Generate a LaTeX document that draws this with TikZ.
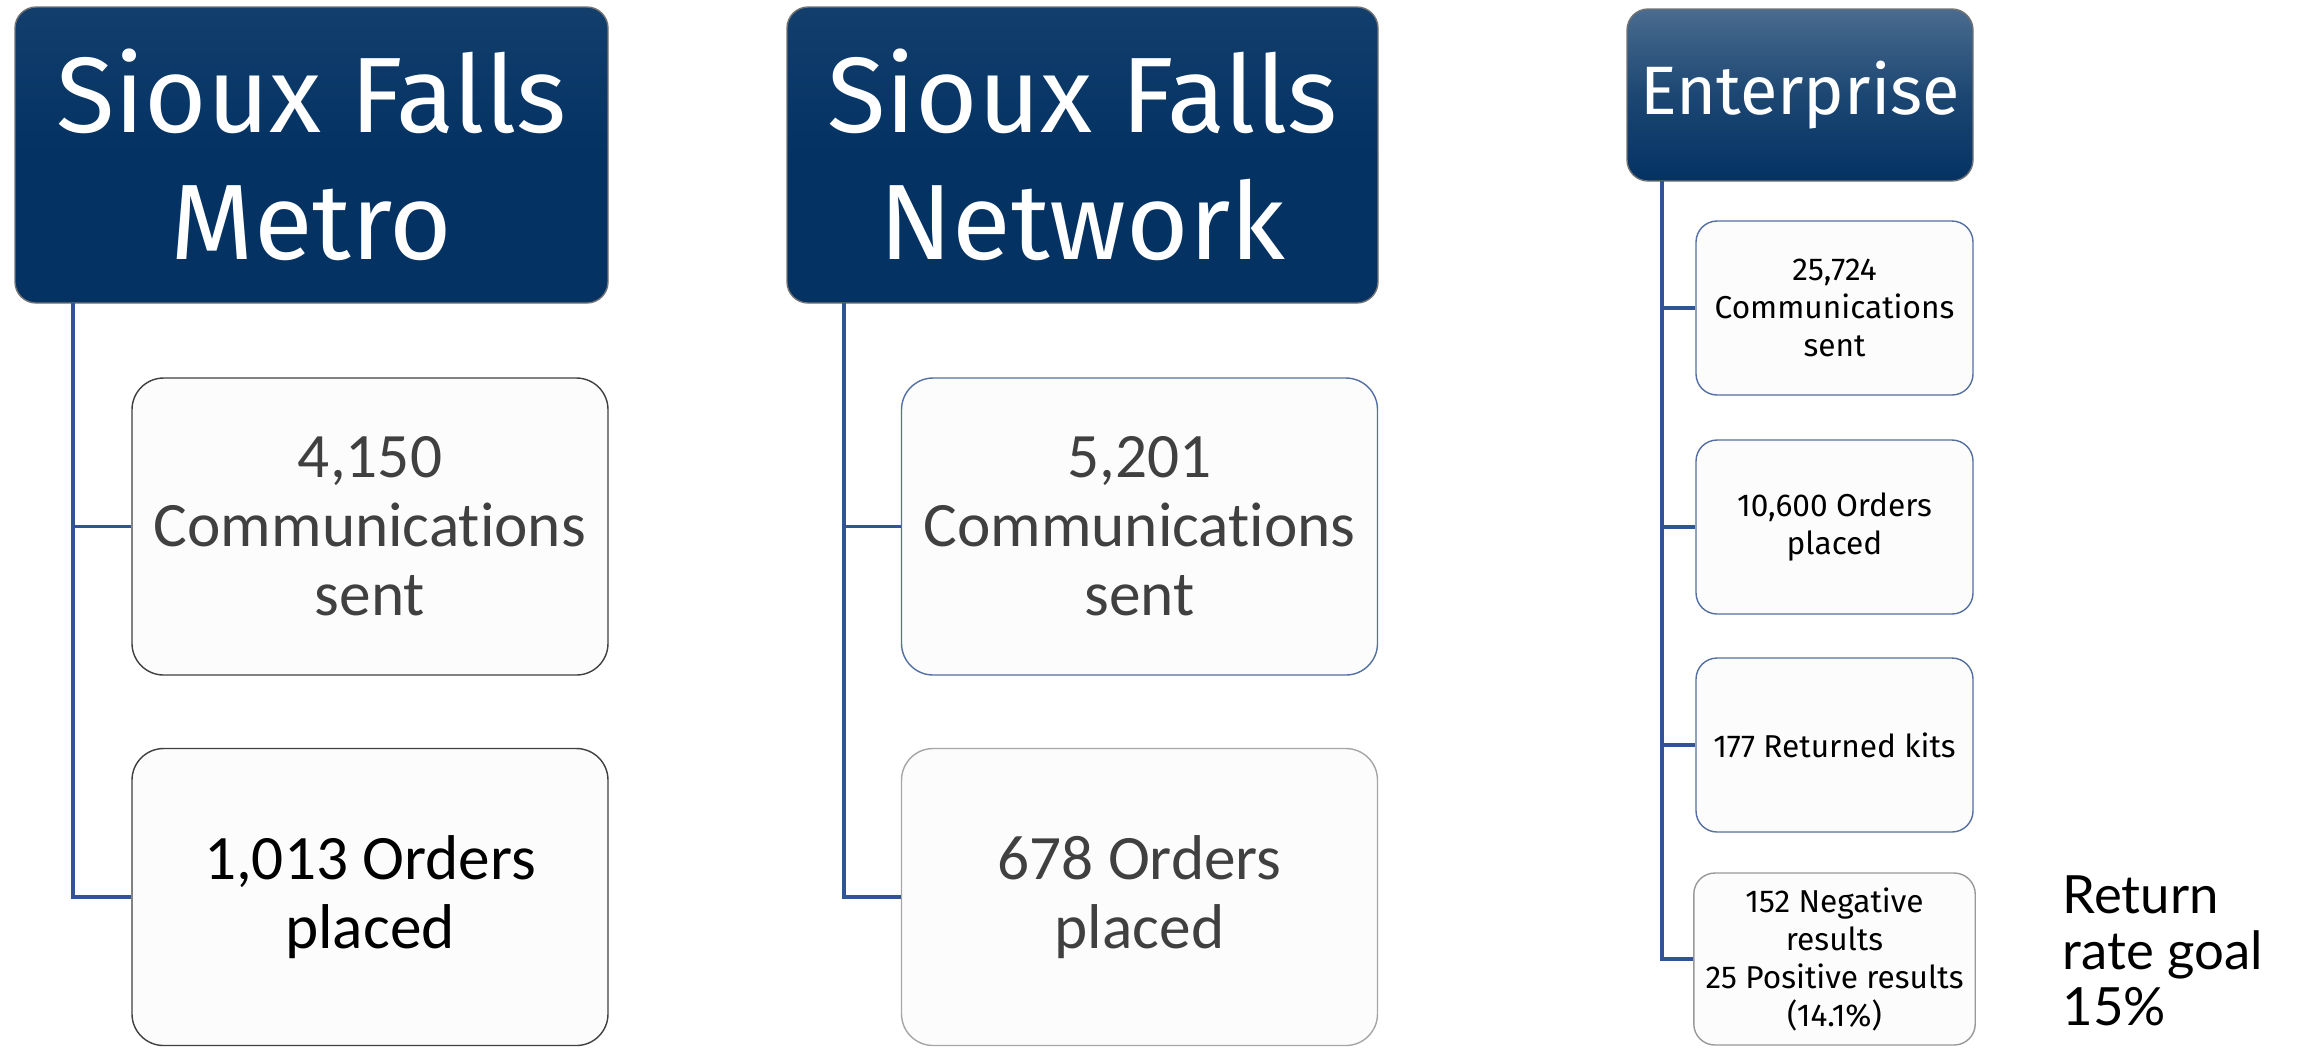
\documentclass[tikz,border=0pt]{standalone}
\usepackage{fontspec}
\setmainfont{Carlito}[Ligatures={NoCommon,NoContextual}]
\newfontfamily\headfont{Fira Sans}
\newfontfamily\kitfont{Fira Sans}
\newfontfamily\notefont{Lato}
\usepackage{xcolor}
\usetikzlibrary{positioning}

\definecolor{navy}{RGB}{3,50,99}
\definecolor{linkblue}{RGB}{47,85,151}
\definecolor{boxgray}{RGB}{252,252,252}
\definecolor{textgray}{RGB}{64,64,64}
\definecolor{edgeblue}{RGB}{84,112,160}

\begin{document}
\begin{tikzpicture}[
    hdr/.style={draw=black!55,rounded corners=6pt,align=center,text=white,
      top color=navy!94!white,bottom color=navy,middle color=navy,
      font=\headfont\fontsize{30.5}{36}\selectfont},
    stat/.style={draw=textgray,fill=boxgray,rounded corners=9pt,align=center,
      minimum width=4.76cm,minimum height=2.97cm,text=textgray,
      font=\fontsize{18}{19.6}\selectfont},
    kit/.style={draw=edgeblue,fill=boxgray,rounded corners=6pt,align=center,
      minimum width=2.77cm,minimum height=1.74cm,
      font=\kitfont\fontsize{9}{10.8}\selectfont},
    link/.style={draw=linkblue,line width=1pt}
  ]
    \useasboundingbox (0,0) rectangle (22.98,-10.47);

    % Sioux Falls Metro
    \node[hdr,minimum width=5.93cm,minimum height=2.96cm] (hdrA) at (3.115,-1.55) {Sioux Falls\\Metro};
    \node[stat] (sentA) at (3.70,-5.265) {4,150\\Communications\\sent};
    \node[stat,text=black] (ordA) at (3.70,-8.97) {1,013 Orders\\placed};
    \coordinate (spineA) at (0.73,-3.03);
    \draw[link] (spineA) |- (sentA.west);
    \draw[link] (spineA) |- (ordA.west);

    % Sioux Falls Network
    \node[hdr,minimum width=5.91cm,minimum height=2.96cm] (hdrB) at (10.825,-1.55) {Sioux Falls\\Network};
    \node[stat,draw=edgeblue] (sentB) at (11.395,-5.265) {5,201\\Communications\\sent};
    \node[stat,draw=black!35] (ordB) at (11.395,-8.97) {678 Orders\\placed};
    \coordinate (spineB) at (8.44,-3.03);
    \draw[link] (spineB) |- (sentB.west);
    \draw[link] (spineB) |- (ordB.west);

    % Enterprise
    \node[hdr,top color=navy!72!white,middle color=navy!90!white,minimum width=3.46cm,minimum height=1.72cm,
      font=\headfont\fontsize{19.5}{23}\selectfont] (hdrC) at (18.0,-0.95) {Enterprise};
    \node[kit] (sentC) at (18.345,-3.08) {25,724\\Communications\\sent};
    \node[kit] (ordC) at (18.345,-5.27) {10,600 Orders\\placed};
    \node[kit] (retC) at (18.345,-7.45) {177 Returned kits};
    \node[kit,draw=black!40,minimum height=1.72cm] (resC) at (18.345,-9.59) {152 Negative\\results\\25 Positive results\\(14.1\%)};
    \coordinate (spineC) at (16.62,-1.81);
    \draw[link] (spineC) |- (sentC.west);
    \draw[link] (spineC) |- (ordC.west);
    \draw[link] (spineC) |- (retC.west);
    \draw[link] (spineC) |- (resC.west);

    \node[align=left,anchor=west,inner sep=0pt,font=\notefont\fontsize{15}{16}\selectfont] (goal) at (20.62,-9.51) {Return\\rate goal\\15\%};
  \end{tikzpicture}
\end{document}
